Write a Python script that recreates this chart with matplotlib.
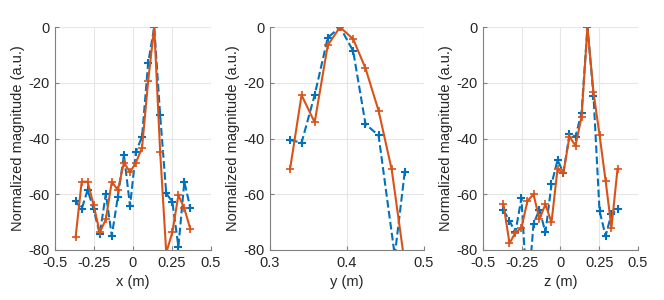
import matplotlib
matplotlib.use('Agg')
import matplotlib.pyplot as plt

plt.rcParams['font.family'] = ['Liberation Sans', 'DejaVu Sans']
plt.rcParams['axes.unicode_minus'] = False

# x / z scan positions (m)
pos_xz = [-0.368, -0.329, -0.291, -0.252, -0.213, -0.174, -0.136, -0.097, -0.058, -0.019,
          0.019, 0.058, 0.097, 0.136, 0.174, 0.213, 0.252, 0.291, 0.329, 0.368]

x_blue = [-62.5, -65.3, -58.5, -65.4, -74.3, -59.8, -74.9, -60.9, -45.9, -64.2,
          -44.7, -39.3, -13.0, 0.0, -31.6, -59.7, -62.7, -78.8, -55.5, -65.1]
x_red = [-75.5, -55.5, -55.5, -63.9, -73.7, -69.0, -55.5, -58.5, -48.6, -52.1,
         -48.6, -43.3, -19.4, 0.0, -44.7, -81.0, -73.7, -60.3, -65.1, -72.6]

# y scan positions (m)
pos_y_red = [0.326, 0.341, 0.358, 0.375, 0.391, 0.408, 0.424, 0.441, 0.458, 0.475]
pos_y_blue = [0.326, 0.341, 0.358, 0.375, 0.391, 0.408, 0.424, 0.441, 0.462, 0.475]
y_blue = [-40.5, -41.5, -24.4, -3.8, 0.0, -8.6, -34.8, -38.9, -82.0, -51.9]
y_red = [-51.1, -24.4, -34.2, -6.5, 0.0, -4.3, -14.8, -30.0, -51.1, -85.0]

z_blue = [-65.7, -69.5, -73.7, -61.4, -98.0, -70.6, -65.5, -73.7, -56.4, -47.7,
          -52.3, -38.4, -39.3, -30.7, 0.0, -24.6, -66.0, -74.9, -67.1, -65.4]
z_red = [-63.5, -77.6, -73.8, -72.1, -62.4, -60.0, -68.9, -63.6, -70.1, -50.9,
         -52.3, -39.3, -42.6, -32.2, 0.0, -23.4, -38.7, -55.1, -72.0, -50.9]

blue = '#0072BD'
red = '#D95319'

fig = plt.figure(figsize=(6.64, 3.0), dpi=100)

panels = [
    ([0.0828, 0.1667, 0.235, 0.743], pos_xz, x_blue, pos_xz, x_red, 'x (m)',
     (-0.5, 0.5), [-0.5, -0.25, 0, 0.25, 0.5], ['-0.5', '-0.25', '0', '0.25', '0.5']),
    ([0.4066, 0.1667, 0.232, 0.743], pos_y_blue, y_blue, pos_y_red, y_red, 'y (m)',
     (0.3, 0.5), [0.3, 0.4, 0.5], ['0.3', '0.4', '0.5']),
    ([0.7274, 0.1667, 0.2334, 0.743], pos_xz, z_blue, pos_xz, z_red, 'z (m)',
     (-0.5, 0.5), [-0.5, -0.25, 0, 0.25, 0.5], ['-0.5', '-0.25', '0', '0.25', '0.5']),
]

for rect, xb, yb, xr, yr, xlab, xl, xt, xtl in panels:
    ax = fig.add_axes(rect)
    ax.plot(xb, yb, '--+', color=blue, lw=1.5, ms=6, mew=1.5)
    ax.plot(xr, yr, '-+', color=red, lw=1.5, ms=6, mew=1.2)
    ax.set_xlim(xl)
    ax.set_ylim(-80, 0)
    ax.set_xticks(xt)
    ax.set_xticklabels(xtl)
    ax.set_yticks([-80, -60, -40, -20, 0])
    ax.grid(True, color='#e6e6e6', lw=0.8)
    ax.set_axisbelow(True)
    for s in ['top', 'right']:
        ax.spines[s].set_visible(False)
    for s in ['left', 'bottom']:
        ax.spines[s].set_color('#808080')
    ax.tick_params(direction='in', length=3, colors='#262626', labelsize=10.5, pad=4)
    ax.tick_params(color='#808080')
    ax.set_xlabel(xlab, fontsize=10.5, color='#262626', labelpad=4)
    ax.set_ylabel('Normalized magnitude (a.u.)', fontsize=10.5, color='#262626', labelpad=2)

fig.savefig('out.png', dpi=100)
